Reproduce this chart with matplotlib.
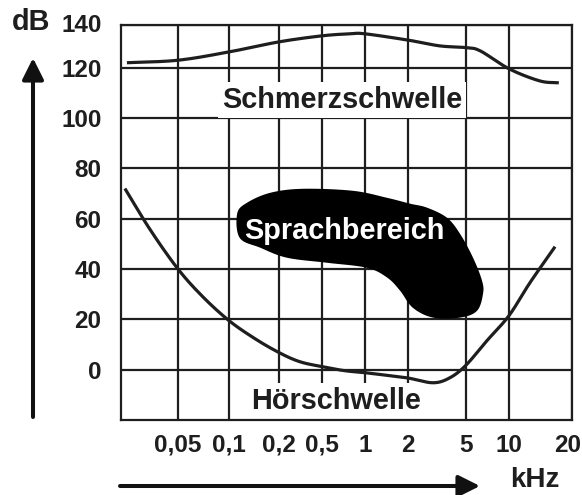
import numpy as np
import matplotlib
matplotlib.use("Agg")
import matplotlib.pyplot as plt
import matplotlib.transforms as mtransforms
from matplotlib.patches import FancyArrowPatch

plt.rcParams['font.family'] = ['Liberation Sans', 'DejaVu Sans']
plt.rcParams['font.weight'] = 'bold'

# frequency axis (kHz): grid lines are not evenly spaced in the original
edge_freqs = [0.02, 0.05, 0.1, 0.2, 0.5, 1, 2, 5, 10, 20]
edge_pos = [121, 178, 229, 279, 322, 365, 408, 466, 509, 572]
x_ticks = [0.05, 0.1, 0.2, 0.5, 1, 2, 5, 10, 20]
x_labels = ['0,05', '0,1', '0,2', '0,5', '1', '2', '5', '10', '20']

y_ticks = [0, 20, 40, 60, 80, 100, 120, 140]
y_labels = ['0', '20', '40', '60', '80', '100', '120', '140']

# Schmerzschwelle (pain threshold)
schmerz_f = [0.022, 0.05, 0.1, 0.2, 0.5, 0.785, 1, 2, 3.3, 5, 6.3, 10, 14, 17.3]
schmerz_db = [122, 123, 126.3, 130.3, 132.7, 133.5, 133.5, 131, 128.7, 128,
              126.7, 119.6, 114.8, 114]

# Hörschwelle (hearing threshold)
hoer_f = [0.0213, 0.032, 0.05, 0.07, 0.1, 0.1435, 0.2, 0.31, 0.5, 0.72, 1,
          1.5, 2, 2.97, 3.88, 5, 7.0, 10, 12.6, 16.6]
hoer_db = [72, 55.6, 40, 29, 19.5, 12.3, 6.8, 3.2, 1.2, -0.4, -1.2, -2.4,
           -3.3, -5.2, -3.2, 1.8, 11.5, 21.5, 34.6, 48.9]

# Sprachbereich (speech area) outline
blob_f = [0.112, 0.128, 0.177, 0.333, 0.824, 1.43, 2.06, 2.70, 3.70, 4.55,
          5.60, 6.47, 6.58, 5.97, 4.55, 2.97, 2.16, 1.76, 1.43, 1.03, 0.542,
          0.237, 0.154, 0.116]
blob_db = [62.0, 66.3, 70.3, 71.9, 71.1, 68.3, 66.0, 64.4, 60.4, 54.0, 44.5,
           35.4, 30.2, 23.4, 20.7, 20.7, 24.6, 31.4, 36.6, 40.5, 42.5, 44.5,
           48.5, 52.4]

log_edges = np.log10(edge_freqs)


def forward(f):
    f = np.clip(np.asarray(f, dtype=float), 1e-6, None)
    return np.interp(np.log10(f), log_edges, edge_pos)


def inverse(x):
    return 10 ** np.interp(np.asarray(x, dtype=float), edge_pos, log_edges)


def smooth(f, db, closed=False, n=16):
    """Catmull-Rom curve through the read points, in axis (scaled) space."""
    p = np.column_stack([forward(f), np.asarray(db, dtype=float) * 2.517])
    if closed:
        p = np.vstack([p[-1], p, p[0], p[1]])
    else:
        p = np.vstack([2 * p[0] - p[1], p, 2 * p[-1] - p[-2]])
    t = np.linspace(0, 1, n, endpoint=False)[:, None]
    out = []
    for i in range(1, len(p) - 2):
        p0, p1, p2, p3 = p[i - 1], p[i], p[i + 1], p[i + 2]
        out.append(0.5 * (2 * p1 + (-p0 + p2) * t
                          + (2 * p0 - 5 * p1 + 4 * p2 - p3) * t ** 2
                          + (-p0 + 3 * p1 - 3 * p2 + p3) * t ** 3))
    out.append(p[len(p) - 2][None, :])
    out = np.vstack(out)
    return inverse(out[:, 0]), out[:, 1] / 2.517


W, H = 582, 495
fig = plt.figure(figsize=(W / 100, H / 100), dpi=100)
ax = fig.add_axes([121 / W, 1 - 420 / H, (572 - 121) / W, (420 - 25) / H])

ax.set_xscale('function', functions=(forward, inverse))
ax.set_xlim(edge_freqs[0], edge_freqs[-1])
y_top = 137
ax.set_ylim(-20, y_top)

line_col = '#1e1e1e'
big = 20.8
ax.set_xticks(x_ticks, x_labels)
ax.set_yticks([min(v, y_top) for v in y_ticks], y_labels)
ax.minorticks_off()
ax.tick_params(length=0, labelsize=17.5, colors='#1e1e1e')
ax.tick_params(axis='y', pad=14)
ax.tick_params(axis='x', pad=10)
ax.grid(True, color=line_col, lw=1.6)
ax.set_axisbelow(True)
for s in ax.spines.values():
    s.set_color(line_col)
    s.set_linewidth(1.6)

# pull the last frequency label and the top dB label slightly inwards
last = ax.xaxis.get_major_ticks()[-1].label1
last.set_transform(last.get_transform()
                   + mtransforms.ScaledTranslation(-0.045, 0, fig.dpi_scale_trans))
top = ax.yaxis.get_major_ticks()[-1].label1
top.set_transform(top.get_transform()
                  + mtransforms.ScaledTranslation(0, 0.02, fig.dpi_scale_trans))

sx, sy = smooth(schmerz_f, schmerz_db)
ax.plot(sx, sy, color=line_col, lw=2.3, zorder=4, solid_capstyle='butt')
hx, hy = smooth(hoer_f, hoer_db)
ax.plot(hx, hy, color=line_col, lw=2.3, zorder=4, solid_capstyle='butt')
bx, by = smooth(blob_f, blob_db, closed=True)
ax.fill(bx, by, color='black', lw=0, zorder=3)

ax.text(0.69, 104.1, 'Schmerzschwelle', ha='center', va='baseline',
        fontsize=big, color='#1e1e1e', zorder=2,
        bbox=dict(facecolor='white', edgecolor='none', pad=3))
ax.text(0.627, -15.5, 'Hörschwelle', ha='center', va='baseline',
        fontsize=big, color='#1e1e1e', zorder=2,
        bbox=dict(facecolor='white', edgecolor='none', pad=3))
ax.text(0.713, 52.0, 'Sprachbereich', ha='center', va='baseline',
        fontsize=big, color='white', zorder=5)

# axis arrows and units
fig.patches.append(FancyArrowPatch((33 / W, 1 - 417 / H), (33 / W, 1 - 58 / H),
                                   transform=fig.transFigure,
                                   arrowstyle='-|>,head_length=1.0,head_width=0.5',
                                   mutation_scale=13, lw=2.9, color='#111111',
                                   shrinkA=0, shrinkB=0))
fig.patches.append(FancyArrowPatch((120 / W, 1 - 486 / H), (480 / W, 1 - 486 / H),
                                   transform=fig.transFigure,
                                   arrowstyle='-|>,head_length=1.0,head_width=0.5',
                                   mutation_scale=13, lw=2.9, color='#111111',
                                   shrinkA=0, shrinkB=0))
fig.text(31 / W, 1 - 22 / H, 'dB', ha='center', va='center', fontsize=big,
         color='#1e1e1e')
fig.text(535 / W, 1 - 480 / H, 'kHz', ha='center', va='center', fontsize=20,
         color='#1e1e1e')

fig.savefig('out.png', dpi=100)
